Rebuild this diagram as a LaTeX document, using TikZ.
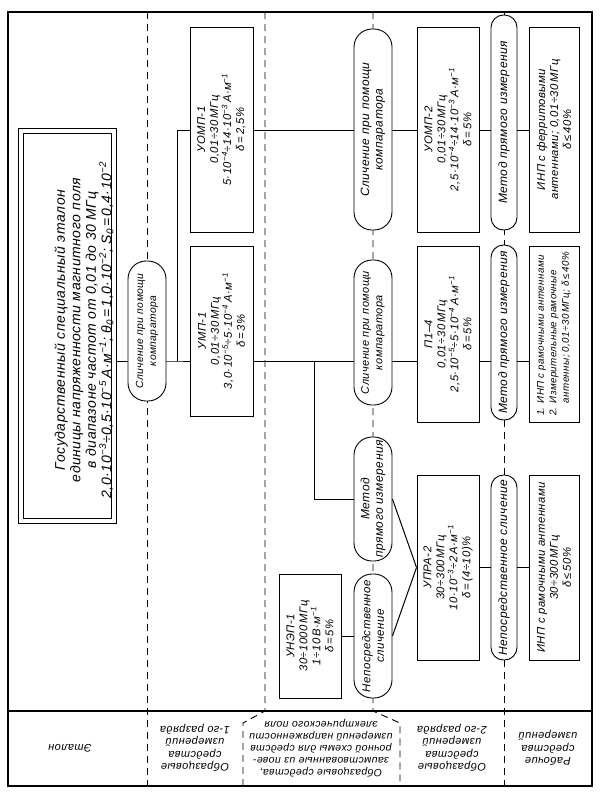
\documentclass[tikz,border=0pt]{standalone}
\usepackage{fontspec}
\setmainfont{Liberation Sans}
\newfontfamily\gost[LetterSpace=4]{Liberation Sans}
\newcommand\pw[1]{\textsuperscript{#1}}
\newcommand\ix[1]{\textsubscript{#1}}
\begin{document}
\begin{tikzpicture}[x=1pt,y=-1pt,
  fr/.style={draw,line width=0.9pt,fill=white,inner sep=0pt},
  ov/.style={draw,line width=0.9pt,fill=white,inner sep=0pt},
  tx/.style={rotate=90,align=center,inner sep=0pt,font=\gost\itshape\fontsize{11.3}{13}\selectfont},
  ot/.style={rotate=90,align=center,inner sep=0pt,font=\gost\itshape\fontsize{12}{13.5}\selectfont},
  big/.style={rotate=90,align=center,inner sep=0pt,font=\gost\itshape\fontsize{14}{15.5}\selectfont},
  lb/.style={rotate=180,align=center,inner sep=0pt,font=\gost\itshape\fontsize{11}{12.5}\selectfont},
  conn/.style={line width=1pt},
  dsh/.style={line width=0.9pt,dash pattern=on 7pt off 5pt}]
\useasboundingbox (0,0) rectangle (600,796);
% frame
\draw[line width=1.3pt] (8,12) rectangle (592,786);
\draw[line width=1.1pt] (8,711) -- (592,711);
% dashed separators
\draw[dsh] (147,12) -- (147,786);
\draw[dsh] (265,12) -- (265,711) -- (243,723) -- (243,786);
\draw[dsh] (373,12) -- (373,711) -- (400,723) -- (400,786);
\draw[dsh] (504,12) -- (504,786);
% shapes
\node[fr,minimum width=98,minimum height=395] (et) at (67,325.5) {};
\node[draw,line width=0.6pt,minimum width=88,minimum height=385,inner sep=0pt] (eti) at (et) {};
\node[ov,rounded corners=18pt,minimum width=38,minimum height=140] (cA) at (147,331) {};
\node[fr,minimum width=63,minimum height=205] (uo1) at (221.5,129.5) {};
\node[fr,minimum width=63,minimum height=170] (um1) at (221.5,331) {};
\node[ov,rounded corners=18pt,minimum width=38,minimum height=201] (cT) at (373,129.5) {};
\node[ov,rounded corners=18pt,minimum width=38,minimum height=145] (cB) at (373,332.5) {};
\node[ov,rounded corners=18pt,minimum width=38,minimum height=124] (mD) at (373,499) {};
\node[ov,rounded corners=18pt,minimum width=38,minimum height=124] (nD) at (373,636) {};
\node[fr,minimum width=62,minimum height=124] (unep) at (310,636) {};
\node[fr,minimum width=62,minimum height=205] (uo2) at (448,129.5) {};
\node[fr,minimum width=62,minimum height=176] (p14) at (448,334) {};
\node[fr,minimum width=62,minimum height=185] (upra) at (448,567.5) {};
\node[ov,rounded corners=12.5pt,minimum width=26,minimum height=215] (mT) at (504,122.5) {};
\node[ov,rounded corners=12.5pt,minimum width=26,minimum height=175] (mB) at (504,332.5) {};
\node[ov,rounded corners=12.5pt,minimum width=26,minimum height=185] (nR) at (504,567.5) {};
\node[fr,minimum width=50,minimum height=205] (inpF) at (554,129.5) {};
\node[fr,minimum width=50,minimum height=176] (inp12) at (554,334) {};
\node[fr,minimum width=50,minimum height=185] (inp3) at (554,567.5) {};
% connectors
\coordinate (jT) at (177,130);
\coordinate (jA) at (177,361);
\coordinate (jB) at (314,361);
\coordinate (jC) at (314,499);
\draw[conn] (et.east |- jA) -- (cA.west |- jA);
\draw[conn] (cA.east |- jA) -- (jA) -- (um1.west |- jA);
\draw[conn] (jA) -- (jT) -- (uo1.west |- jT);
\draw[conn] (uo1.east |- jT) -- (cT.west |- jT);
\draw[conn] (cT.east |- jT) -- (uo2.west |- jT);
\draw[conn] (uo2.east |- jT) -- (mT.west |- jT);
\draw[conn] (mT.east |- jT) -- (inpF.west |- jT);
\draw[conn] (um1.east |- jA) -- (cB.west |- jA);
\draw[conn] (cB.east |- jA) -- (p14.west |- jA);
\draw[conn] (p14.east |- jA) -- (mB.west |- jA);
\draw[conn] (mB.east |- jA) -- (inp12.west |- jA);
\draw[conn] (jB) -- (jC) -- (mD.west |- jC);
\draw[conn] (mD.east) -- (upra.west);
\draw[conn] (nD.east) -- (upra.west);
\draw[conn] (unep.east) -- (nD.west);
\draw[conn] (upra.east) -- (nR.west);
\draw[conn] (nR.east) -- (inp3.west);
% texts
\node[big] (etT) at (84,330) {Государственный специальный эталон\\единицы напряженности магнитного поля\\в диапазоне частот от 0,01 до 30 МГц\\2,0·10\pw{−3}÷0,5·10\pw{−5}\,А·м\pw{−1}; θ\ix{0}\,=\,1,0·10\pw{−2}; S\ix{0}\,=\,0,4·10\pw{−2}};
\node[ot,font=\gost\itshape\fontsize{10.3}{13}\selectfont] (cAT) at (cA) {Сличение при помощи\\компаратора};
\node[tx] (uo1T) at (uo1) {УОМП-1\\0,01÷30\,МГц\\5·10\pw{−4}÷14·10\pw{−3}\,А·м\pw{−1}\\δ\,=\,2,5\%};
\node[tx] (um1T) at (um1) {УМП-1\\0,01÷30\,МГц\\3,0·10\pw{−5}÷5·10\pw{−4}\,А·м\pw{−1}\\δ\,=\,3\%};
\node[ot] (cTT) at (cT) {Сличение при помощи\\компаратора};
\node[ot,font=\gost\itshape\fontsize{11}{13.5}\selectfont] (cBT) at (cB) {Сличение при помощи\\компаратора};
\node[ot] (mDT) at (mD) {Метод\\прямого измерения};
\node[ot,font=\gost\itshape\fontsize{11.5}{13.5}\selectfont] (nDT) at (nD) {Непосредственное\\сличение};
\node[tx] (unepT) at (unep) {УНЭП-1\\30÷1000\,МГц\\1÷10\,В·м\pw{−1}\\δ\,=\,5\%};
\node[tx] (uo2T) at (uo2) {УОМП-2\\0,01÷30\,МГц\\2,5·10\pw{−4}÷14·10\pw{−3}\,А·м\pw{−1}\\δ\,=\,5\%};
\node[tx] (p14T) at (p14) {П1–4\\0,01÷30\,МГц\\2,5·10\pw{−5}÷5·10\pw{−4}\,А·м\pw{−1}\\δ\,=\,5\%};
\node[tx] (upraT) at (upra) {УПРА-2\\30÷300\,МГц\\10·10\pw{−3}÷2\,А·м\pw{−1}\\δ\,=\,(4÷10)\%};
\node[ot] (mTT) at (mT) {Метод прямого измерения};
\node[ot] (mBT) at (mB) {Метод прямого измерения};
\node[ot] (nRT) at (nR) {Непосредственное сличение};
\node[tx] (inpFT) at (inpF) {ИНП с ферритовыми\\антеннами; 0,01÷30\,МГц\\δ\,≤\,40\%};
\node[tx,align=left,font=\gost\itshape\fontsize{9.8}{12.5}\selectfont] (inp12T) at (inp12) {1. ИНП с рамочными антеннами\\2. Измерительные рамочные\\\phantom{2. }антенны; 0,01÷30\,МГц; δ\,≤\,40\%};
\node[tx] (inp3T) at (inp3) {ИНП с рамочными антеннами\\30÷300\,МГц\\δ\,≤\,50\%};
% strip labels
\node[lb] (l1) at (70,748) {Эталон};
\node[lb] (l2) at (195,748) {Образцовые\\средства\\измерений\\1-го разряда};
\node[lb,font=\gost\itshape\fontsize{10.5}{12}\selectfont] (l3) at (321,748) {Образцовые средства,\\заимствованные из пове-\\рочной схемы для средств\\измерений напряженности\\электрического поля};
\node[lb] (l4) at (452,748) {Образцовые\\средства\\измерений\\2-го разряда};
\node[lb] (l5) at (548,748) {Рабочие\\средства\\измерений};
\end{tikzpicture}
\end{document}
